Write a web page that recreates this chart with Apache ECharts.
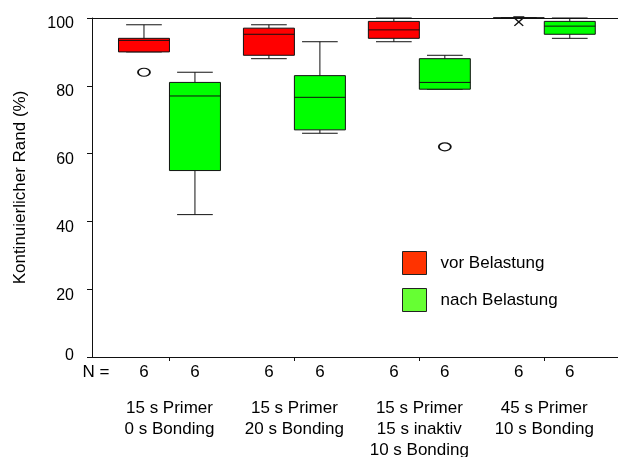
<!DOCTYPE html>
<html>
<head>
<meta charset="utf-8">
<script src="https://cdn.jsdelivr.net/npm/echarts@6/dist/echarts.min.js"></script>
<style>
  html, body { margin: 0; padding: 0; background: #fff; }
  #chart { width: 618px; height: 457px; }
</style>
</head>
<body>
<div id="chart"></div>
<script>
// Groups (primer / bonding protocols)
const categories = [
  '15 s Primer\n0 s Bonding',
  '15 s Primer\n20 s Bonding',
  '15 s Primer\n15 s inaktiv\n10 s Bonding',
  '45 s Primer\n10 s Bonding'
];

// Five-number summaries per group: [min, Q1, median, Q3, max]
const vorBelastung = [
  [90, 90, 93.4, 94, 98],
  [88, 89, 95.2, 97, 98],
  [93, 94, 96.5, 99, 100],
  [100, 100, 100, 100, 100]
];
const nachBelastung = [
  [42, 55, 77, 81, 84],
  [66, 67, 76.6, 83, 93],
  [79, 79, 81, 88, 89],
  [94, 95.2, 97.6, 99, 100]
];

// Outliers (circles) and extreme values (asterisk): [groupIndex, value]
const vorOutliers = [[0, 84]];
const nachOutliers = [[2, 62]];
const vorExtremes = [[3, 99]];
const nachExtremes = [];

// Sample sizes per group
const nVor = [6, 6, 6, 6];
const nNach = [6, 6, 6, 6];

const yTicks = [0, 20, 40, 60, 80, 100];

const FONT = 'Liberation Sans, Arial, Helvetica, sans-serif';
const BOX_W = 0.408;      // box width in x-axis units
const SHIFT = 0.204;      // half offset of the two boxes within a group
const X_MIN = 0.38, X_MAX = 4.59;

function boxData(stats) {
  return stats.map((s, i) => [i + 1].concat(s));
}

function makeRender(offset) {
  return function (params, api) {
    const x = api.value(0) + offset;
    const pMin = api.coord([x, api.value(1)]);
    const pQ1 = api.coord([x, api.value(2)]);
    const pMed = api.coord([x, api.value(3)]);
    const pQ3 = api.coord([x, api.value(4)]);
    const pMax = api.coord([x, api.value(5)]);
    const half = api.size([BOX_W, 0])[0] / 2;
    const cap = half * 0.7;
    const cx = pMed[0];
    const stroke = { stroke: '#111', lineWidth: 1 };
    return {
      type: 'group',
      children: [
        { type: 'line', shape: { x1: cx, y1: pMax[1], x2: cx, y2: pQ3[1] }, style: stroke },
        { type: 'line', shape: { x1: cx, y1: pQ1[1], x2: cx, y2: pMin[1] }, style: stroke },
        { type: 'line', shape: { x1: cx - cap, y1: pMax[1], x2: cx + cap, y2: pMax[1] }, style: stroke },
        { type: 'line', shape: { x1: cx - cap, y1: pMin[1], x2: cx + cap, y2: pMin[1] }, style: stroke },
        {
          type: 'rect',
          shape: { x: cx - half, y: pQ3[1], width: half * 2, height: pQ1[1] - pQ3[1] },
          style: { fill: api.visual('color'), stroke: '#111', lineWidth: 1 }
        },
        { type: 'line', shape: { x1: cx - half, y1: pMed[1], x2: cx + half, y2: pMed[1] }, style: stroke }
      ]
    };
  };
}

function pointData(list, offset) {
  return list.map(p => [p[0] + 1 + offset, p[1]]);
}

// N row: "N =" label followed by counts under each box
const nPositions = [0.412];
const nTexts = ['N ='];
for (let i = 0; i < categories.length; i++) {
  nPositions.push(i + 1 - SHIFT, i + 1 + SHIFT);
  nTexts.push(String(nVor[i]), String(nNach[i]));
}

const groupCenters = categories.map((c, i) => i + 1);

const chart = echarts.init(document.getElementById('chart'), null, { renderer: 'canvas' });

chart.setOption({
  animation: false,
  backgroundColor: '#fff',
  textStyle: { fontFamily: FONT },
  grid: { left: 92, right: 0, top: 18, bottom: 100, containLabel: false, outerBoundsMode: 'none' },
  legend: {
    orient: 'vertical',
    left: 402,
    top: 251,
    padding: 0,
    itemWidth: 24,
    itemHeight: 23,
    itemGap: 13,
    icon: 'rect',
    textStyle: { fontSize: 17, color: '#000', fontFamily: FONT, padding: [0, 0, 0, 9] },
    data: [
      { name: 'vor Belastung', itemStyle: { color: '#FF3300', borderColor: '#222', borderWidth: 1 } },
      { name: 'nach Belastung', itemStyle: { color: '#66FF33', borderColor: '#222', borderWidth: 1 } }
    ]
  },
  xAxis: [
    {
      type: 'value', position: 'bottom', min: X_MIN, max: X_MAX,
      splitLine: { show: false },
      axisLine: { show: true, lineStyle: { color: '#111', width: 1 } },
      axisTick: { show: true, customValues: groupCenters, length: 4, inside: false, lineStyle: { color: '#111' } },
      axisLabel: {
        show: true, customValues: groupCenters,
        formatter: v => categories[Math.round(v) - 1] || '',
        margin: 41, fontSize: 17, lineHeight: 21, color: '#000', fontFamily: FONT
      }
    },
    {
      type: 'value', position: 'top', min: X_MIN, max: X_MAX,
      splitLine: { show: false },
      axisLine: { show: true, onZero: false, lineStyle: { color: '#111', width: 1 } },
      axisTick: { show: false },
      axisLabel: { show: false }
    },
    {
      type: 'value', position: 'bottom', min: X_MIN, max: X_MAX,
      splitLine: { show: false },
      axisLine: { show: false },
      axisTick: { show: false },
      axisLabel: {
        show: true, customValues: nPositions,
        formatter: function (v) {
          let best = 0;
          nPositions.forEach((p, i) => { if (Math.abs(p - v) < Math.abs(nPositions[best] - v)) best = i; });
          return nTexts[best];
        },
        margin: 7, fontSize: 17, color: '#000', fontFamily: FONT
      }
    }
  ],
  yAxis: {
    type: 'value', min: 0, max: 100, interval: 20,
    name: 'Kontinuierlicher Rand (%)',
    nameLocation: 'middle',
    nameRotate: 90,
    nameGap: 63,
    nameTextStyle: { fontSize: 17, color: '#000', fontFamily: FONT },
    splitLine: { show: false },
    axisLine: { show: true, lineStyle: { color: '#111', width: 1 } },
    axisTick: { show: true, length: 5, lineStyle: { color: '#111' } },
    axisLabel: {
      customValues: yTicks,
      margin: 18, color: '#000', fontFamily: FONT,
      verticalAlign: 'middle',
      // tick labels sit slightly below their ticks; the zero label sits just above the axis
      formatter: v => (v === 0 ? '{z|' + v + '}' : '{n|' + v + '}'),
      rich: {
        n: { fontSize: 16, fontFamily: FONT, color: '#000', padding: [12, 0, 0, 0] },
        z: { fontSize: 16, fontFamily: FONT, color: '#000', padding: [0, 0, 3, 0] }
      }
    }
  },
  series: [
    {
      name: 'vor Belastung', type: 'custom', xAxisIndex: 0,
      color: '#FF0000', clip: false,
      encode: { x: 0, y: [1, 2, 3, 4, 5] },
      renderItem: makeRender(-SHIFT),
      data: boxData(vorBelastung),
      z: 3
    },
    {
      name: 'nach Belastung', type: 'custom', xAxisIndex: 0,
      color: '#00FF00', clip: false,
      encode: { x: 0, y: [1, 2, 3, 4, 5] },
      renderItem: makeRender(SHIFT),
      data: boxData(nachBelastung),
      z: 3
    },
    {
      name: 'Ausreißer', type: 'scatter', xAxisIndex: 0,
      symbol: 'circle', symbolSize: [12, 8],
      itemStyle: { color: '#fff', borderColor: '#111', borderWidth: 1.5, opacity: 1 },
      data: pointData(vorOutliers, -SHIFT).concat(pointData(nachOutliers, SHIFT)),
      z: 4
    },
    {
      name: 'Extremwerte', type: 'scatter', xAxisIndex: 0,
      symbol: 'path://M0,0L10,0M1,1L9,8M9,1L1,8',
      symbolSize: [11, 9],
      itemStyle: { color: 'none', borderColor: '#111', borderWidth: 1.3, opacity: 1 },
      data: pointData(vorExtremes, -SHIFT).concat(pointData(nachExtremes, SHIFT)),
      z: 4
    }
  ]
});
</script>
</body>
</html>
